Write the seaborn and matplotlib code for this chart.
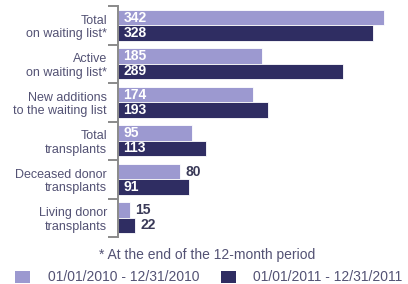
import matplotlib
matplotlib.use("Agg")
import matplotlib.pyplot as plt
import seaborn as sns
import pandas as pd
import numpy as np

categories = ["Total\non waiting list*", "Active\non waiting list*", "New additions\nto the waiting list",
              "Total\ntransplants", "Deceased donor\ntransplants", "Living donor\ntransplants"]
series_names = ["01/01/2010 - 12/31/2010", "01/01/2011 - 12/31/2011"]
values_2010 = [342, 185, 174, 95, 80, 15]
values_2011 = [328, 289, 193, 113, 91, 22]
footnote = "* At the end of the 12-month period"

light = "#9c99d0"
dark = "#2f2d62"
txt = "#535274"

sns.set_theme(style="white")
plt.rcParams['font.family'] = ['Liberation Sans', 'DejaVu Sans']

df = pd.DataFrame({
    "category": categories * 2,
    "value": values_2010 + values_2011,
    "period": [series_names[0]] * len(categories) + [series_names[1]] * len(categories),
})

fig = plt.figure(figsize=(4.08, 2.84), dpi=100)
ax = fig.add_axes([118/408, 1-237/284, (400-118)/408, (237-6)/284])
sns.barplot(data=df, y="category", x="value", hue="period", orient="h",
            palette=[light, dark], width=0.8, ax=ax, legend=False,
            edgecolor="white", linewidth=0.6, saturation=1)

ax.set_xlim(0, 282/0.778)
ax.set_ylim(len(categories)-0.5, -0.5)
ax.set_xlabel("")
ax.set_ylabel("")
ax.set_xticks([])
for s in ["top", "right", "bottom"]:
    ax.spines[s].set_visible(False)
ax.spines["left"].set_color("#8a8a8a")
ax.spines["left"].set_linewidth(1.4)
ax.set_yticks(range(len(categories)))
ax.set_yticklabels(categories, fontsize=9, color=txt, linespacing=1.15)
ax.tick_params(axis="y", which="major", length=0, pad=8)
ax.set_yticks(np.arange(-0.5, len(categories), 1.0), minor=True)
ax.tick_params(axis="y", which="minor", length=7, width=1.4, color="#8a8a8a", left=True)

# value labels
for ci, cont in enumerate(ax.containers):
    for bar in cont:
        w = bar.get_width()
        yc = bar.get_y() + bar.get_height()/2
        if w >= 90:
            ax.text(7, yc, f"{int(round(w))}", color="white", fontsize=10, fontweight="bold",
                    va="center", ha="left")
        else:
            ax.text(w + 7, yc, f"{int(round(w))}", color="#3a3a58", fontsize=10, fontweight="bold",
                    va="center", ha="left")

fig.text(207/408, 1-255/284, footnote, ha="center", va="center", fontsize=10, color=txt)
fig.patches.append(plt.Rectangle((15/408, 1-283/284), 15/408, 12/284, transform=fig.transFigure,
                                 facecolor=light, edgecolor="none"))
fig.patches.append(plt.Rectangle((221/408, 1-283/284), 15/408, 12/284, transform=fig.transFigure,
                                 facecolor=dark, edgecolor="none"))
fig.text(48/408, 1-277/284, series_names[0], ha="left", va="center", fontsize=10, color=txt)
fig.text(253/408, 1-277/284, series_names[1], ha="left", va="center", fontsize=10, color=txt)

fig.savefig("out.png", dpi=100, facecolor="white")
